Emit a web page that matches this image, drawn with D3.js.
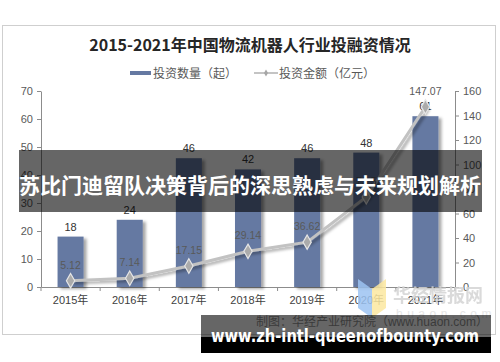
<!DOCTYPE html>
<html>
<head>
<meta charset="utf-8">
<script src="https://cdn.jsdelivr.net/npm/d3@7"></script>
<style>
  body { margin: 0; background: #fff; }
  text { font-family: "Liberation Sans", "Noto Sans CJK SC", sans-serif; }
</style>
</head>
<body>
<div id="chart"></div>
<script>
// data
var years = ["2015年", "2016年", "2017年", "2018年", "2019年", "2020年", "2021年"];
var counts = [18, 24, 46, 42, 46, 48, 61];          // 投资数量（起）
var amounts = [5.12, 7.14, 17.15, 29.14, 36.62, 73.5, 147.07]; // 投资金额（亿元）
var leftTicks = [0, 10, 20, 30, 40, 50, 60, 70];
var rightTicks = [0, 20, 40, 60, 80, 100, 120, 140, 160];

var width = 500, height = 362;
var barColor = "#6579a2";

var svg = d3.select("#chart").append("svg")
    .attr("width", width)
    .attr("height", height);

var defs = svg.append("defs");
defs.append("filter").attr("id", "shadow")
    .attr("x", "-30%").attr("y", "-30%").attr("width", "160%").attr("height", "160%")
  .append("feDropShadow")
    .attr("dx", 3).attr("dy", 2).attr("stdDeviation", 1.8)
    .attr("flood-color", "#000").attr("flood-opacity", 0.35);

svg.append("rect").attr("width", width).attr("height", height).attr("fill", "#fff");

// chart frame
svg.append("rect")
    .attr("x", 2.5).attr("y", 25.5).attr("width", 493).attr("height", 309)
    .attr("fill", "#fff").attr("stroke", "#cfcfcf");

// title
svg.append("text")
    .attr("x", 250).attr("y", 51)
    .attr("text-anchor", "middle")
    .style("font-size", "16px").style("font-weight", "bold")
    .style("font-family", "'Noto Sans CJK SC', sans-serif")
    .attr("fill", "#262626")
    .text("2015-2021年中国物流机器人行业投融资情况");

// legend
var lg = svg.append("g").style("font-size", "12px").attr("fill", "#595959");
lg.append("rect").attr("x", 130).attr("y", 71).attr("width", 21).attr("height", 4).attr("fill", barColor);
lg.append("text").attr("x", 153).attr("y", 77.5).text("投资数量（起）");
lg.append("line").attr("x1", 254).attr("x2", 278).attr("y1", 73).attr("y2", 73)
    .attr("stroke", "#c4c4c4").attr("stroke-width", 2);
lg.append("path").attr("d", d3.symbol(d3.symbolDiamond, 14)())
    .attr("transform", "translate(266,73)").attr("fill", "#a6a6a6");
lg.append("text").attr("x", 279).attr("y", 77.5).text("投资金额（亿元）");

// scales
var x = d3.scaleBand().domain(years).range([41, 455]).paddingInner(0.56).paddingOuter(0.28);
var yL = d3.scaleLinear().domain([0, 70]).range([287, 91]);
var yR = d3.scaleLinear().domain([0, 160]).range([287, 91]);

// axes
var axisColor = "#8c8c8c";
var gl = svg.append("g").attr("transform", "translate(41,0)")
    .call(d3.axisLeft(yL).tickValues(leftTicks).tickSize(4).tickSizeOuter(0).tickPadding(4));
var gr = svg.append("g").attr("transform", "translate(455,0)")
    .call(d3.axisRight(yR).tickValues(rightTicks).tickSize(4).tickSizeOuter(0).tickPadding(4));
[gl, gr].forEach(function(g) {
  g.select(".domain").attr("stroke", axisColor);
  g.selectAll(".tick line").attr("stroke", axisColor);
  g.selectAll(".tick text").attr("fill", "#595959").style("font-size", "11px")
      .style("font-family", "'Liberation Sans', sans-serif");
});

var gx = svg.append("g").attr("transform", "translate(0,287)")
    .call(d3.axisBottom(x).tickSize(0).tickSizeOuter(0).tickPadding(9));
gx.select(".domain").attr("stroke", axisColor);
gx.selectAll(".tick text").attr("fill", "#404040").style("font-size", "11px");
// category boundary ticks
var step = x.step();
var bounds = years.map(function(d) { return x(d) - step * x.paddingInner() / 2; });
bounds.push(455);
gx.selectAll(".bound").data(bounds).enter().append("line")
    .attr("x1", function(d) { return d; }).attr("x2", function(d) { return d; })
    .attr("y1", 0).attr("y2", 4).attr("stroke", axisColor);

// bars
svg.append("g").selectAll("rect").data(counts).enter().append("rect")
    .attr("x", function(d, i) { return x(years[i]); })
    .attr("y", function(d) { return yL(d); })
    .attr("width", x.bandwidth())
    .attr("height", function(d) { return yL(0) - yL(d); })
    .attr("fill", barColor)
    .attr("filter", "url(#shadow)");

svg.append("g").selectAll("text").data(counts).enter().append("text")
    .attr("x", function(d, i) { return x(years[i]) + x.bandwidth() / 2; })
    .attr("y", function(d) { return yL(d) - 6; })
    .attr("text-anchor", "middle")
    .style("font-size", "11px").attr("fill", "#333")
    .text(function(d) { return d; });

// line
var cx = function(i) { return x(years[i]) + x.bandwidth() / 2; };
var line = d3.line().x(function(d, i) { return cx(i); }).y(function(d) { return yR(d); });
svg.append("path").datum(amounts)
    .attr("d", line).attr("fill", "none")
    .attr("stroke", "#c2c2c2").attr("stroke-width", 3)
    .attr("filter", "url(#shadow)");

svg.append("g").selectAll("path").data(amounts).enter().append("path")
    .attr("d", d3.symbol(d3.symbolDiamond, 60)())
    .attr("transform", function(d, i) { return "translate(" + cx(i) + "," + yR(d) + ")"; })
    .attr("fill", "#ababab").attr("stroke", "#e6e6e6").attr("stroke-width", 1.2);

svg.append("g").selectAll("text").data(amounts).enter().append("text")
    .attr("x", function(d, i) { return cx(i); })
    .attr("y", function(d) { return yR(d) - 12; })
    .attr("text-anchor", "middle")
    .style("font-size", "10.5px").attr("fill", "#595959")
    .text(function(d) { return d; });

// watermark
var wm = svg.append("g");
wm.append("path").attr("d", "M358,279 L372,289 L372,318 L358,308 Z").attr("fill", "#9cc3f2").attr("opacity", 0.85);
wm.append("path").attr("d", "M372,289 L386,279 L386,308 L372,318 Z").attr("fill", "#fbe8a0").attr("opacity", 0.85);
wm.append("text").attr("x", 393).attr("y", 302)
    .style("font-size", "18px").style("font-weight", "bold")
    .style("font-family", "'Noto Sans CJK SC', sans-serif")
    .attr("fill", "#d4d4d4").attr("opacity", 0.85)
    .text("华经情报网");
wm.append("text").attr("x", 396).attr("y", 318)
    .style("font-size", "12px").attr("letter-spacing", "4.5px")
    .attr("fill", "#e6e6e6")
    .text("huaon.com");

// overlay band with headline
svg.append("rect").attr("x", 19).attr("y", 150).attr("width", 463).attr("height", 62)
    .attr("fill", "#000").attr("opacity", 0.6);
svg.append("text").attr("x", 250).attr("y", 193)
    .attr("text-anchor", "middle")
    .style("font-size", "21px").style("font-weight", "bold")
    .style("font-family", "'Noto Sans CJK SC', sans-serif")
    .attr("fill", "#fff")
    .text("苏比门迪留队决策背后的深思熟虑与未来规划解析");

// bottom banner
svg.append("rect").attr("x", 201).attr("y", 315).attr("width", 290).attr("height", 22)
    .attr("fill", "#000").attr("opacity", 0.6);
svg.append("rect").attr("x", 201).attr("y", 337).attr("width", 290).attr("height", 16)
    .attr("fill", "#000");
svg.append("text").attr("x", 488).attr("y", 326)
    .attr("text-anchor", "end")
    .style("font-size", "12px").attr("fill", "#3a3a3a")
    .text("制图：华经产业研究院（www.huaon.com）");
svg.append("text").attr("x", 211).attr("y", 342)
    .attr("textLength", 268).attr("lengthAdjust", "spacingAndGlyphs")
    .style("font-size", "17px").style("font-weight", "bold")
    .style("font-family", "'DejaVu Sans', sans-serif")
    .attr("fill", "#fff")
    .text("www.zh-intl-queenofbounty.com");
</script>
</body>
</html>
